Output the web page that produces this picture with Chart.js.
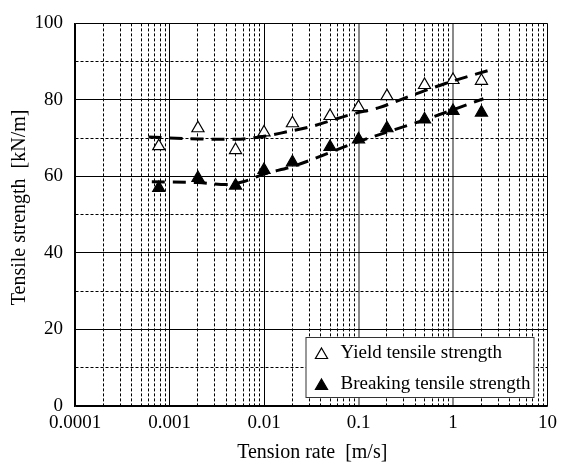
<!DOCTYPE html>
<html>
<head>
<meta charset="utf-8">
<script src="https://cdn.jsdelivr.net/npm/chart.js@4/dist/chart.umd.min.js"></script>
<style>
html,body{margin:0;padding:0;background:#fff;}
#wrap{width:563px;height:467px;position:relative;}
</style>
</head>
<body>
<div id="wrap"><canvas id="c" width="563" height="467"></canvas></div>
<script>
// ---- data ----
const tensionRates = [0.00077, 0.002, 0.005, 0.01, 0.02, 0.05, 0.1, 0.2, 0.5, 1, 2];
const yieldStrength = [67.9, 72.6, 66.9, 71.5, 73.9, 75.8, 78.1, 81.0, 83.9, 85.2, 85.0];
const breakingStrength = [57.0, 59.6, 57.6, 61.7, 63.7, 67.7, 69.7, 72.6, 74.9, 77.1, 76.7];

// dashed trend curves
const yieldTrendX = [0.0006, 0.002, 0.005, 0.01, 0.017, 0.03, 0.086, 0.165, 0.37, 0.83, 2.6];
const yieldTrendY = [70.3, 69.8, 69.7, 70.5, 71.6, 72.9, 76.3, 78.0, 81.2, 84.3, 88.0];
const breakTrendX = [0.00065, 0.002, 0.004, 0.006, 0.01, 0.02, 0.1, 0.5, 2.1];
const breakTrendY = [58.6, 58.4, 57.9, 58.6, 60.6, 62.6, 69.1, 74.8, 80.3];

const xTickValues = [0.0001, 0.001, 0.01, 0.1, 1, 10];
const xTickLabels = ["0.0001", "0.001", "0.01", "0.1", "1", "10"];
const yTickLabels = ["0", "20", "40", "60", "80", "100"];

const seriesLabels = ["Yield tensile strength", "Breaking tensile strength"];
const xTitle = "Tension rate  [m/s]";
const yTitle = "Tensile strength  [kN/m]";

// ---- helpers ----
const SERIF = '"Liberation Serif", "Times New Roman", serif';
const pts = (xs, ys) => xs.map((x, i) => ({x: x, y: ys[i]}));
const isMajorX = v => xTickValues.some(t => Math.abs(Math.log10(t) - Math.log10(v)) < 1e-6);

// grid positions for the log axis: 1..9 in each decade
const xGridValues = [];
for (let i = 0; i < xTickValues.length - 1; i++) {
  for (let m = 1; m <= 9; m++) xGridValues.push(Number((m * xTickValues[i]).toPrecision(6)));
}
xGridValues.push(xTickValues[xTickValues.length - 1]);

const overlay = {
  id: 'overlay',
  afterDraw(chart) {
    const ctx = chart.ctx, ca = chart.chartArea;
    const dsets = chart.data.datasets.filter(d => d.inLegend);
    // legend box inside plot
    const bx = ca.right - 242, by = ca.bottom - 69, bw = 228, bh = 60;
    ctx.save();
    ctx.fillStyle = '#fff';
    ctx.fillRect(bx, by, bw, bh);
    ctx.strokeStyle = '#333';
    ctx.lineWidth = 1;
    ctx.strokeRect(bx + 0.5, by + 0.5, bw, bh);
    dsets.forEach((ds, i) => {
      const cy = by + 16 + i * 31;
      ctx.fillStyle = ds.backgroundColor;
      ctx.strokeStyle = ds.borderColor;
      ctx.lineWidth = ds.borderWidth;
      Chart.helpers.drawPoint(ctx, {pointStyle: 'triangle', radius: 7, borderWidth: ds.borderWidth, rotation: 0}, bx + 16, cy + 2);
      ctx.fillStyle = '#000';
      ctx.font = '19px ' + SERIF;
      ctx.textAlign = 'left';
      ctx.textBaseline = 'middle';
      ctx.fillText(ds.label, bx + 35, cy);
    });
    // axis titles
    ctx.fillStyle = '#000';
    ctx.font = '20px ' + SERIF;
    ctx.textAlign = 'center';
    ctx.textBaseline = 'middle';
    ctx.fillText(xTitle, (ca.left + ca.right) / 2 + 1, ca.bottom + 47);
    ctx.translate(ca.left - 55, ca.top + 184);
    ctx.rotate(-Math.PI / 2);
    ctx.fillText(yTitle, 0, 0);
    ctx.restore();
  }
};

new Chart(document.getElementById('c'), {
  type: 'scatter',
  data: {
    datasets: [
      {label: 'yield trend', data: pts(yieldTrendX, yieldTrendY), showLine: true, pointRadius: 0,
       borderColor: '#000', borderWidth: 3, borderDash: [13, 8], cubicInterpolationMode: 'monotone', order: 0},
      {label: 'breaking trend', data: pts(breakTrendX, breakTrendY), showLine: true, pointRadius: 0,
       borderColor: '#000', borderWidth: 3, borderDash: [13, 8], cubicInterpolationMode: 'monotone', order: 0},
      {label: seriesLabels[0], inLegend: true, data: pts(tensionRates, yieldStrength), pointStyle: 'triangle',
       pointRadius: 7, backgroundColor: '#fff', borderColor: '#000', borderWidth: 1.2, order: 1},
      {label: seriesLabels[1], inLegend: true, data: pts(tensionRates, breakingStrength), pointStyle: 'triangle',
       pointRadius: 7, backgroundColor: '#000', borderColor: '#000', borderWidth: 1.2, order: 1}
    ]
  },
  options: {
    responsive: false,
    animation: false,
    devicePixelRatio: 1,
    layout: {padding: {top: 16, right: 14, left: 0, bottom: 0}},
    plugins: {legend: {display: false}, tooltip: {enabled: false}},
    scales: {
      x: {
        type: 'logarithmic', min: 0.0001, max: 10,
        afterBuildTicks: s => { s.ticks = xGridValues.map(v => ({value: v, major: isMajorX(v)})); },
        afterFit: s => { s.height = 61; },
        ticks: {
          autoSkip: false, maxRotation: 0, padding: 6, color: '#000',
          font: {family: SERIF, size: 19},
          callback: v => { const i = xTickValues.findIndex(t => Math.abs(Math.log10(t) - Math.log10(v)) < 1e-6); return i >= 0 ? xTickLabels[i] : ''; }
        },
        grid: {
          drawTicks: false,
          color: c => (c.tick && (Math.abs(c.tick.value - 0.1) < 1e-9 || Math.abs(c.tick.value - 1) < 1e-9)) ? '#8a8a8a' : '#000',
          lineWidth: c => (c.tick && (Math.abs(c.tick.value - 0.1) < 1e-9 || Math.abs(c.tick.value - 1) < 1e-9)) ? 2 : 1
        },
        border: {display: true, color: '#000', width: 1.5,
          dash: c => (c.tick && !isMajorX(c.tick.value)) ? [3, 2] : []}
      },
      y: {
        type: 'linear', min: 0, max: 100,
        afterFit: s => { s.width = 75; },
        ticks: {
          stepSize: 10, autoSkip: false, padding: 12, color: '#000',
          font: {family: SERIF, size: 19},
          callback: v => (v % 20 === 0) ? yTickLabels[v / 20] : ''
        },
        grid: {drawTicks: false, color: '#000', lineWidth: 1},
        border: {display: true, color: '#000', width: 1.5,
          dash: c => (c.tick && c.tick.value % 20 !== 0) ? [3, 2] : []}
      }
    }
  },
  plugins: [overlay]
});
</script>
</body>
</html>
